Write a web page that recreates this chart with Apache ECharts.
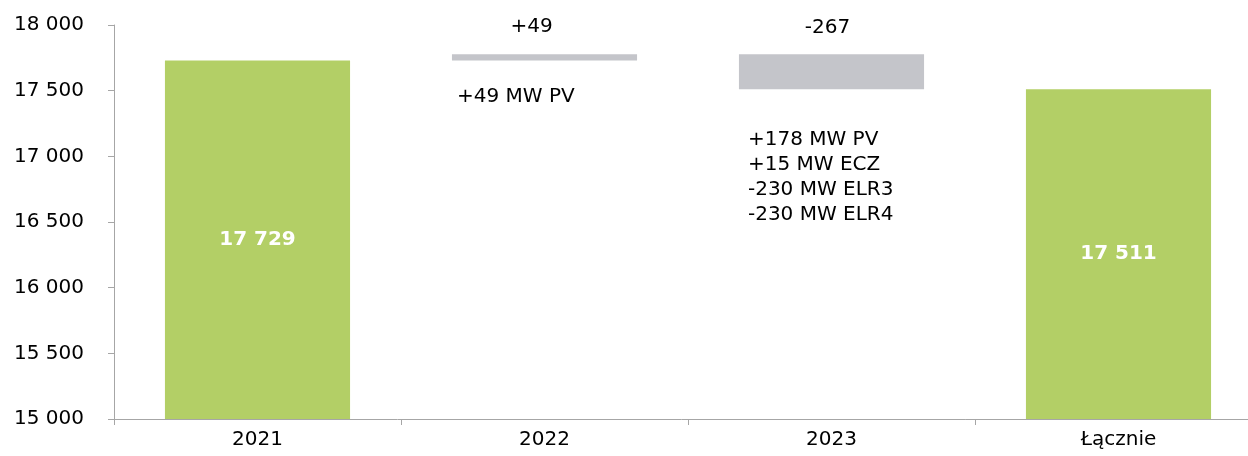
<!DOCTYPE html>
<html>
<head>
<meta charset="utf-8">
<script src="https://cdn.jsdelivr.net/npm/echarts@6/dist/echarts.min.js"></script>
<style>
  html, body { margin: 0; padding: 0; background: #fff; }
  #chart { width: 1248px; height: 456px; }
</style>
</head>
<body>
<div id="chart"></div>
<script>
// Installed capacity bridge (MW)
const categories = ['2021', '2022', '2023', 'Łącznie'];
const startValue = 17729;            // 2021 level
const changes = [49, -267];          // yearly changes 2022, 2023
const endValue = 17511;              // resulting total
const changeNotes = [
  '+49 MW PV',
  '+178 MW PV\n+15 MW ECZ\n-230 MW ELR3\n-230 MW ELR4'
];
const yTicks = [15000, 15500, 16000, 16500, 17000, 17500, 18000];

const FONT = 'Verdana, "DejaVu Sans", sans-serif';
const FS = 20;
const GREEN = '#b3cf66';
const GREY = '#c4c5ca';

const fmt = v => String(Math.round(v)).replace(/\B(?=(\d{3})+(?!\d))/g, ' ');

// Build floating segments for the change columns
const totals = [startValue, '-', '-', endValue];
const base = ['-'];
const delta = ['-'];
let level = startValue;
changes.forEach(c => {
  base.push(Math.min(level, level + c));
  delta.push(Math.abs(c));
  level += c;
});
base.push('-');
delta.push('-');

const notePos = [[5, 24], [9, 38]];
const valueDist = [17, 16];
const valueShift = [-13, -4];

const chart = echarts.init(document.getElementById('chart'));
chart.setOption({
  animation: false,
  grid: { left: 114, top: 25, bottom: 37, right: -14, outerBoundsMode: 'none', containLabel: false },
  xAxis: {
    type: 'category',
    data: categories,
    axisLine: { lineStyle: { color: '#a6a6a6', width: 1 } },
    axisTick: { show: true, length: 6, lineStyle: { color: '#a6a6a6' } },
    axisLabel: { color: '#000', fontSize: FS, fontFamily: FONT, margin: 11 }
  },
  yAxis: {
    type: 'value',
    min: yTicks[0],
    max: yTicks[yTicks.length - 1],
    interval: 500,
    splitLine: { show: false },
    axisLine: { show: true, lineStyle: { color: '#a6a6a6', width: 1 } },
    axisTick: { show: true, length: 6, lineStyle: { color: '#a6a6a6' } },
    axisLabel: { color: '#000', fontSize: FS, fontFamily: FONT, margin: 30, formatter: fmt }
  },
  series: [
    {
      name: 'total',
      type: 'bar',
      stack: 'w',
      barWidth: '64.5%',
      itemStyle: { color: GREEN },
      label: {
        show: true,
        position: 'inside',
        color: '#fff',
        fontWeight: 'bold',
        fontSize: FS,
        fontFamily: FONT,
        formatter: p => fmt(p.value)
      },
      data: totals
    },
    {
      name: 'base',
      type: 'bar',
      stack: 'w',
      itemStyle: { color: 'transparent' },
      label: { show: false },
      data: base.map((v, i) => v === '-' ? '-' : {
        value: v,
        label: {
          show: true,
          position: notePos[i - 1],
          align: 'left',
          verticalAlign: 'top',
          color: '#000',
          fontSize: FS,
          lineHeight: 25,
          fontFamily: FONT,
          formatter: () => changeNotes[i - 1]
        }
      })
    },
    {
      name: 'change',
      type: 'bar',
      stack: 'w',
      itemStyle: { color: GREY },
      data: delta.map((v, i) => v === '-' ? '-' : {
        value: v,
        label: {
          show: true,
          position: 'top',
          distance: valueDist[i - 1],
          offset: [valueShift[i - 1], 0],
          color: '#000',
          fontSize: FS,
          fontFamily: FONT,
          formatter: () => (changes[i - 1] > 0 ? '+' : '') + changes[i - 1]
        }
      })
    }
  ]
});
</script>
</body>
</html>
